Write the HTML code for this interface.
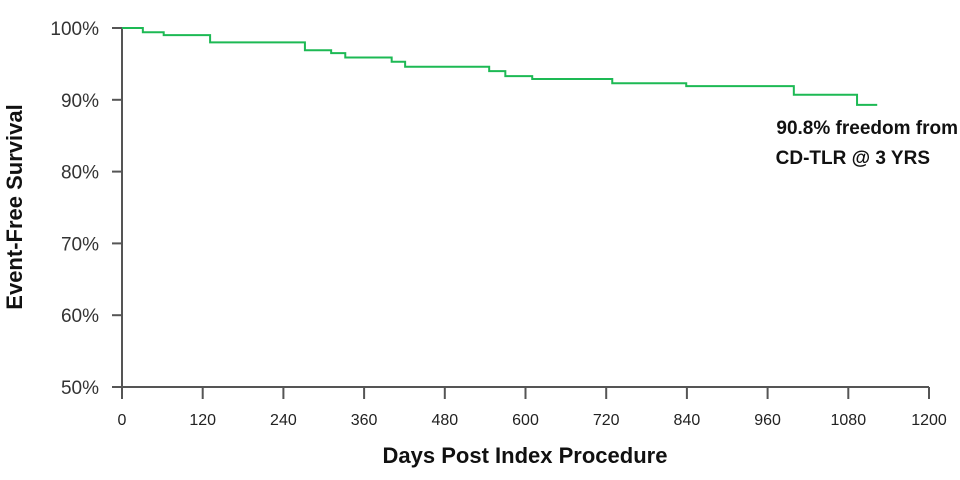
<!DOCTYPE html>
<html><head><meta charset="utf-8"><style>
html,body{margin:0;padding:0;background:#fff;}
svg{display:block;font-family:"Liberation Sans",sans-serif;}
</style></head><body>
<svg id="chart" width="960" height="480">
<g id="axes"></g>
<g id="series"></g>
<text x="22" y="207" transform="rotate(-90 22 207)" text-anchor="middle" font-size="22" font-weight="bold" fill="#111">Event-Free Survival</text>
<text x="525" y="463" text-anchor="middle" font-size="22" font-weight="bold" fill="#111">Days Post Index Procedure</text>
<text x="958" y="134" text-anchor="end" font-size="19" font-weight="bold" fill="#111">90.8% freedom from</text>
<text x="930" y="164" text-anchor="end" font-size="19" font-weight="bold" fill="#111">CD-TLR @ 3 YRS</text>
</svg>
<script>
const xTicks=[0,120,240,360,480,600,720,840,960,1080,1200];
const yTicks=[50,60,70,80,90,100];
const stepDays=[0,31,62,131,272,311,332,401,421,546,570,610,729,839,999,1093];
const stepSurvival=[100,99.4,99.0,98.0,96.9,96.5,95.9,95.3,94.6,94.0,93.3,92.9,92.3,91.9,90.7,89.3];
const lastDay=1123;
const NS="http://www.w3.org/2000/svg";
const X0=122,X1=929,Y0=387,Y1=28;
const xs=d=>X0+(d/1200)*(X1-X0);
const ys=v=>Y0-(v-50)/50*(Y0-Y1);
function mk(t,a,p){const e=document.createElementNS(NS,t);for(const k in a)e.setAttribute(k,a[k]);p.appendChild(e);return e;}
const ax=document.getElementById('axes');
const c="#555";
const xl=mk('line',{x1:X0,y1:Y0,x2:X1,y2:Y0,stroke:c,'stroke-width':2},ax);


const yl=mk('line',{x1:X0,y1:Y0,x2:X0,y2:Y1,stroke:c,'stroke-width':2},ax);


xTicks.forEach(t=>{
 const x=xs(t);
 mk('line',{x1:x,y1:Y0,x2:x,y2:Y0+12,stroke:c,'stroke-width':2},ax);
 const tx=mk('text',{x:x,y:425,'text-anchor':'middle','font-size':16,fill:'#222'},ax);
 tx.textContent=t;
 
 
});
yTicks.forEach(t=>{
 const y=ys(t);
 mk('line',{x1:X0-10,y1:y,x2:X0,y2:y,stroke:c,'stroke-width':2},ax);
 const tx=mk('text',{x:99,y:y+7,'text-anchor':'end','font-size':19,fill:'#333'},ax);
 tx.textContent=t+'%';
 
 
});
let d='M'+xs(stepDays[0])+','+ys(stepSurvival[0]);
for(let i=1;i<stepDays.length;i++){
 d+=' H'+xs(stepDays[i])+' V'+ys(stepSurvival[i]);
}
d+=' H'+xs(lastDay);
const p=mk('path',{d:d,fill:'none',stroke:'#1db954','stroke-width':2},document.getElementById('series'));


</script>
</body></html>
